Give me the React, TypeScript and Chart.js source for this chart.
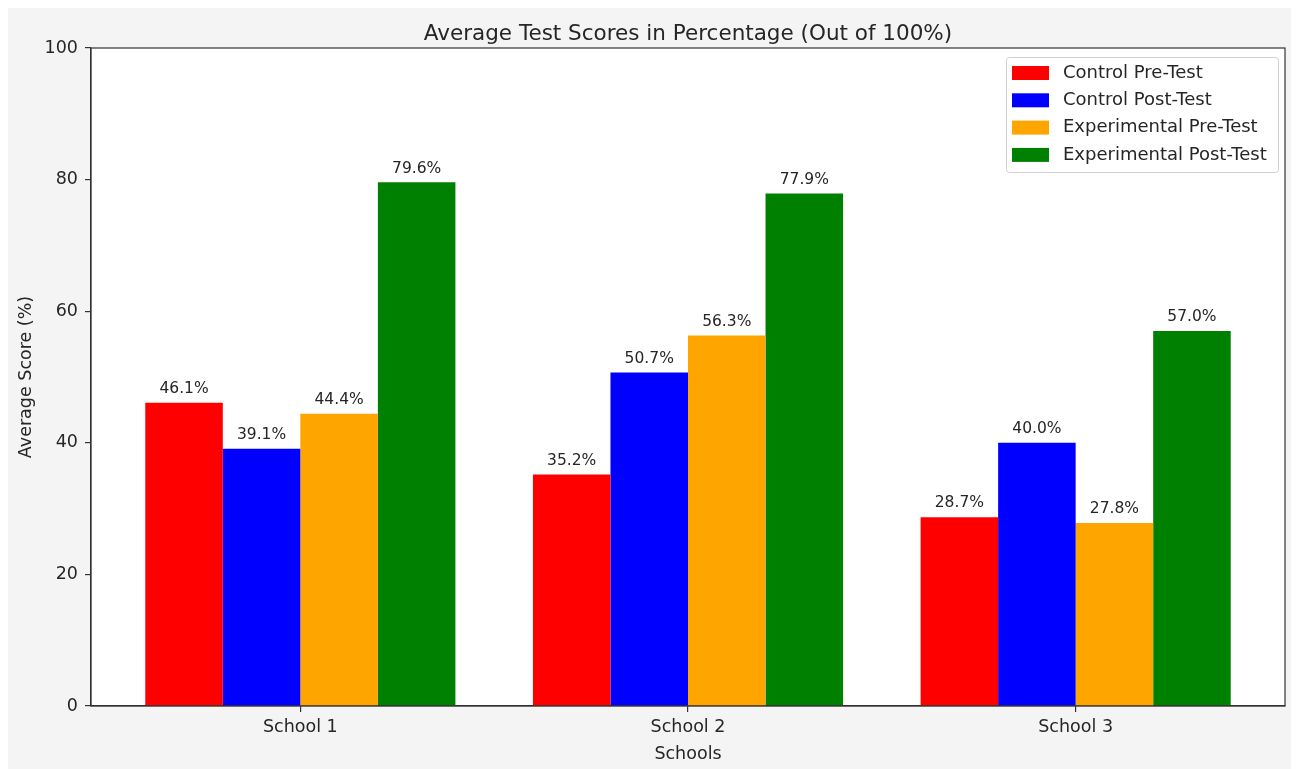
import React, { useEffect, useRef } from "react";
import { Chart, registerables } from "chart.js";

Chart.register(...registerables);

const schools = ["School 1", "School 2", "School 3"];
const seriesNames = ["Control Pre-Test", "Control Post-Test", "Experimental Pre-Test", "Experimental Post-Test"];
const controlPre = [46.1, 35.2, 28.7];
const controlPost = [39.1, 50.7, 40.0];
const experimentalPre = [44.4, 56.3, 27.8];
const experimentalPost = [79.6, 77.9, 57.0];
const seriesColors = ["#ff0000", "#0000ff", "#ffa500", "#008000"];
const yTicks = [0, 20, 40, 60, 80, 100];

const TITLE = "Average Test Scores in Percentage (Out of 100%)";
const FONT = "'DejaVu Sans', sans-serif";
const TEXT = "#262626";
const W = 1291;
const H = 761;

const decorPlugin = {
  id: "decor",
  beforeDraw(chart: any) {
    const { ctx, chartArea: a } = chart;
    ctx.save();
    ctx.fillStyle = "#f4f4f4";
    ctx.fillRect(0, 0, chart.width, chart.height);
    ctx.fillStyle = "#ffffff";
    ctx.fillRect(a.left, a.top, a.right - a.left, a.bottom - a.top);
    ctx.restore();
  },
  afterDraw(chart: any) {
    const { ctx, chartArea: a } = chart;
    ctx.save();
    // spines
    ctx.strokeStyle = "#333333";
    ctx.lineWidth = 1.2;
    ctx.strokeRect(a.left, a.top, a.right - a.left, a.bottom - a.top);

    // value labels
    ctx.fillStyle = TEXT;
    ctx.font = `15.5px ${FONT}`;
    ctx.textAlign = "center";
    ctx.textBaseline = "bottom";
    chart.data.datasets.forEach((ds: any, di: number) => {
      const meta = chart.getDatasetMeta(di);
      meta.data.forEach((bar: any, i: number) => {
        const v = ds.data[i].y;
        ctx.fillText(v.toFixed(1) + "%", bar.x, bar.y - 6);
      });
    });

    // title
    ctx.font = `21.5px ${FONT}`;
    ctx.textBaseline = "alphabetic";
    ctx.fillText(TITLE, (a.left + a.right) / 2, 32);

    // axis titles
    ctx.font = `17.5px ${FONT}`;
    ctx.fillText("Schools", (a.left + a.right) / 2, 751);
    ctx.save();
    ctx.translate(18, (a.top + a.bottom) / 2);
    ctx.rotate(-Math.PI / 2);
    ctx.textBaseline = "middle";
    ctx.fillText("Average Score (%)", 0, 0);
    ctx.restore();

    // legend
    const lx = 998, ly = 49, lw = 272, lh = 115;
    ctx.fillStyle = "rgba(255,255,255,0.85)";
    ctx.strokeStyle = "#d0d0d0";
    ctx.lineWidth = 1;
    ctx.beginPath();
    (ctx as any).roundRect(lx + 0.5, ly + 0.5, lw, lh, 3);
    ctx.fill();
    ctx.stroke();
    ctx.font = `18px ${FONT}`;
    ctx.textAlign = "left";
    ctx.textBaseline = "middle";
    seriesNames.forEach((name, i) => {
      const cy = 65 + i * 27.3;
      ctx.fillStyle = seriesColors[i];
      ctx.fillRect(1004, cy - 7, 37, 14);
      ctx.fillStyle = TEXT;
      ctx.fillText(name, 1055, cy);
    });
    ctx.restore();
  },
};

export default function App() {
  const ref = useRef<HTMLCanvasElement>(null);
  useEffect(() => {
    const all = [controlPre, controlPost, experimentalPre, experimentalPost];
    const chart = new Chart(ref.current as HTMLCanvasElement, {
      type: "bar",
      data: {
        datasets: all.map((vals, j) => ({
          label: seriesNames[j],
          data: schools.map((_, i) => ({ x: i, y: vals[i] })),
          backgroundColor: seriesColors[j],
          borderWidth: 0,
          barPercentage: 1,
          categoryPercentage: 0.8,
        })),
      },
      options: {
        responsive: false,
        animation: false,
        layout: { padding: { top: 40, right: 14, left: 0, bottom: 0 } },
        plugins: { legend: { display: false }, title: { display: false }, tooltip: { enabled: false } },
        scales: {
          x: {
            type: "linear",
            min: -0.54,
            max: 2.54,
            offset: false,
            afterBuildTicks: (s: any) => {
              s.ticks = schools.map((_, i) => ({ value: i }));
            },
            afterFit: (s: any) => {
              s.height = 63;
            },
            grid: { display: true, offset: false, drawOnChartArea: false, drawTicks: true, tickLength: 6, color: "#333333", lineWidth: 1.2 },
            border: { display: true, color: "#333333", width: 1.2 },
            ticks: {
              padding: 5,
              color: TEXT,
              font: { family: FONT, size: 17.5 },
              maxRotation: 0,
              autoSkip: false,
              callback: (v: any) => schools[v as number] ?? "",
            },
          },
          y: {
            min: 0,
            max: 100,
            afterBuildTicks: (s: any) => {
              s.ticks = yTicks.map((v) => ({ value: v }));
            },
            afterFit: (s: any) => {
              s.width = 83;
            },
            grid: { display: true, drawOnChartArea: false, drawTicks: true, tickLength: 6, color: "#333333", lineWidth: 1.2 },
            border: { display: true, color: "#333333", width: 1.2 },
            ticks: { padding: 7, color: TEXT, font: { family: FONT, size: 17.5 } },
          },
        },
      },
      plugins: [decorPlugin],
    } as any);
    return () => chart.destroy();
  }, []);
  return (
    <div style={{ width: W, height: H }}>
      <canvas ref={ref} width={W} height={H} style={{ display: "block", width: W, height: H }} />
    </div>
  );
}
